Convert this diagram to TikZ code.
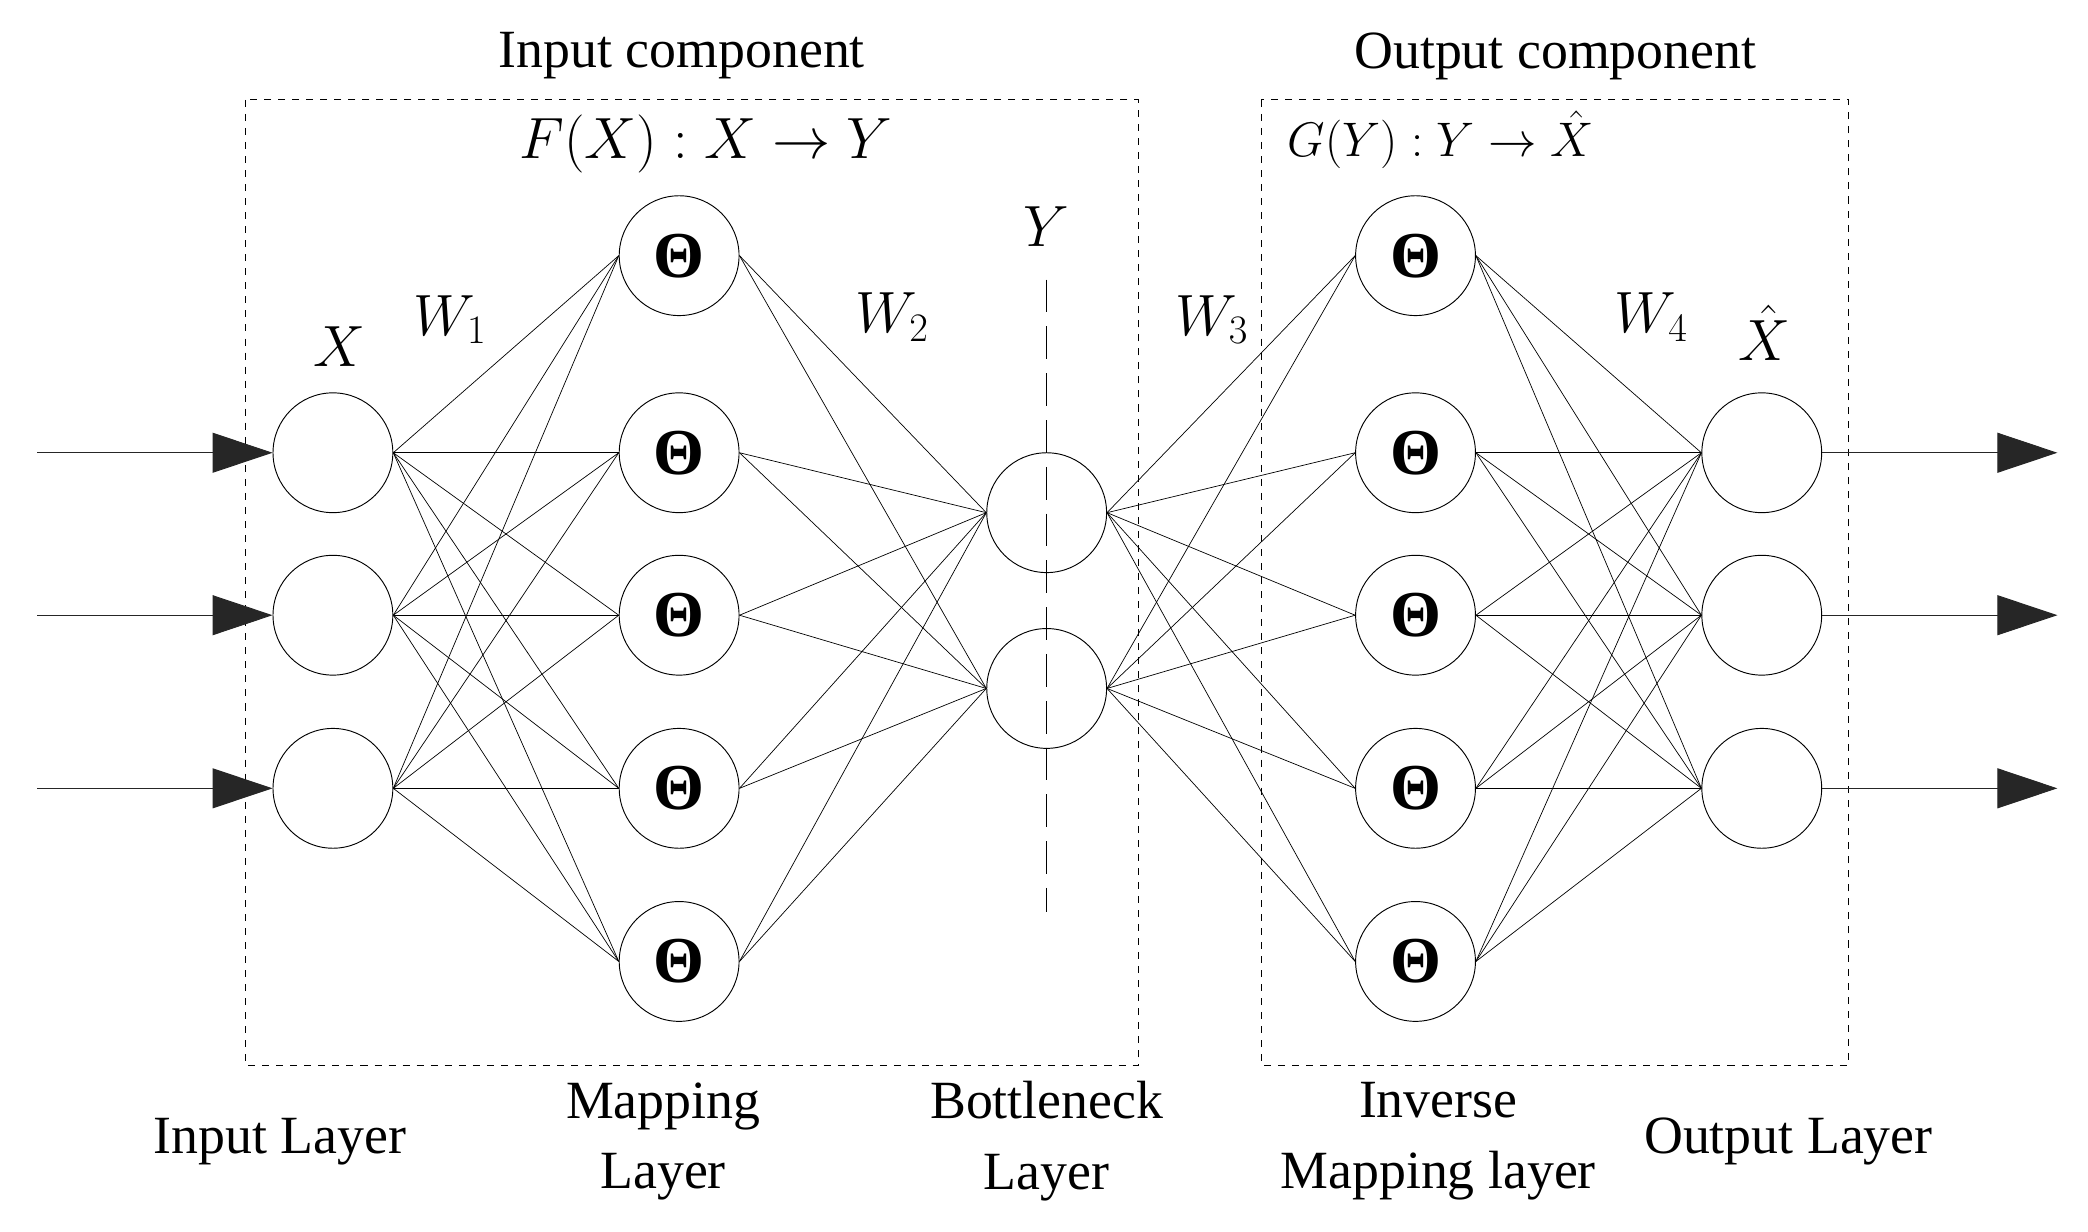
\documentclass[tikz,border=0pt]{standalone}
\usepackage{fontspec}
\setmainfont{Liberation Serif}
\usepackage{amsmath}
\usetikzlibrary{arrows.meta}

\begin{document}
\begin{tikzpicture}[x=0.02cm, y=-0.02cm,
    neuron/.style={draw, circle, minimum size=1.8cm, inner sep=0pt, line width=0.4pt,
        font=\fontsize{28}{30}\selectfont\bfseries},
    link/.style={line width=0.3pt},
    feed/.style={-{Triangle[length=0.9cm, width=0.6cm]}, line width=0.4pt, color=black!85},
    box/.style={draw, dashed, line width=0.4pt},
    lbl/.style={font=\fontsize{23}{30}\selectfont, align=center},
    sym/.style={font=\fontsize{24}{28}\selectfont}]

    \useasboundingbox (0,0) rectangle (1568,925);

    % dashed components
    \draw[box] (184,75) rectangle (855,800);
    \draw[box] (947,75) rectangle (1388,800);
    \draw[dash pattern=on 14pt off 6pt, line width=0.5pt] (786,210) -- (786,685);

    % layers
    \foreach \y [count=\i] in {340,462,592}
        \node[neuron] (in-\i) at (250,\y) {};
    \foreach \y [count=\i] in {192,340,462,592,722}
        \node[neuron] (map-\i) at (510,\y) {Θ};
    \foreach \y [count=\i] in {385,517}
        \node[neuron] (bn-\i) at (786,\y) {};
    \foreach \y [count=\i] in {192,340,462,592,722}
        \node[neuron] (inv-\i) at (1063,\y) {Θ};
    \foreach \y [count=\i] in {340,462,592}
        \node[neuron] (out-\i) at (1323,\y) {};

    % connections
    \foreach \i in {1,2,3}
        \foreach \j in {1,...,5}
            \draw[link] (in-\i.east) -- (map-\j.west);
    \foreach \j in {1,...,5}
        \foreach \k in {1,2}
            \draw[link] (map-\j.east) -- (bn-\k.west);
    \foreach \k in {1,2}
        \foreach \j in {1,...,5}
            \draw[link] (bn-\k.east) -- (inv-\j.west);
    \foreach \j in {1,...,5}
        \foreach \i in {1,2,3}
            \draw[link] (inv-\j.east) -- (out-\i.west);

    % inputs and outputs
    \foreach \i/\y in {1/340,2/462,3/592} {
        \coordinate (src-\i) at (28,\y);
        \coordinate (dst-\i) at (1545,\y);
        \draw[feed] (src-\i) -- (in-\i.west);
        \draw[feed] (out-\i.east) -- (dst-\i);
    }

    % labels
    \node[lbl] (incomp) at (512,42) {Input component};
    \node[lbl] (outcomp) at (1168,42) {Output component};
    \node[sym] (fmap) at (530,108) {$F(X):X\rightarrow Y$};
    \node[sym, font=\fontsize{22}{26}\selectfont] (gmap) at (1082,105) {$G(Y):Y\rightarrow \hat{X}$};
    \node[sym] (ylbl) at (786,170) {$Y$};
    \node[sym] (xlbl) at (255,260) {$X$};
    \node[sym] (xhat) at (1325,250) {$\hat{X}$};
    \node[sym] (w1) at (338,240) {$W_1$};
    \node[sym] (w2) at (670,238) {$W_2$};
    \node[sym] (w3) at (910,240) {$W_3$};
    \node[sym] (w4) at (1240,238) {$W_4$};

    \node[lbl] (inlayer) at (210,857) {Input Layer};
    \node[lbl] (maplayer) at (498,857) {Mapping\\Layer};
    \node[lbl] (bnlayer) at (786,857) {Bottleneck\\Layer};
    \node[lbl] (invlayer) at (1080,857) {Inverse\\Mapping layer};
    \node[lbl] (outlayer) at (1343,857) {Output Layer};

\end{tikzpicture}
\end{document}
